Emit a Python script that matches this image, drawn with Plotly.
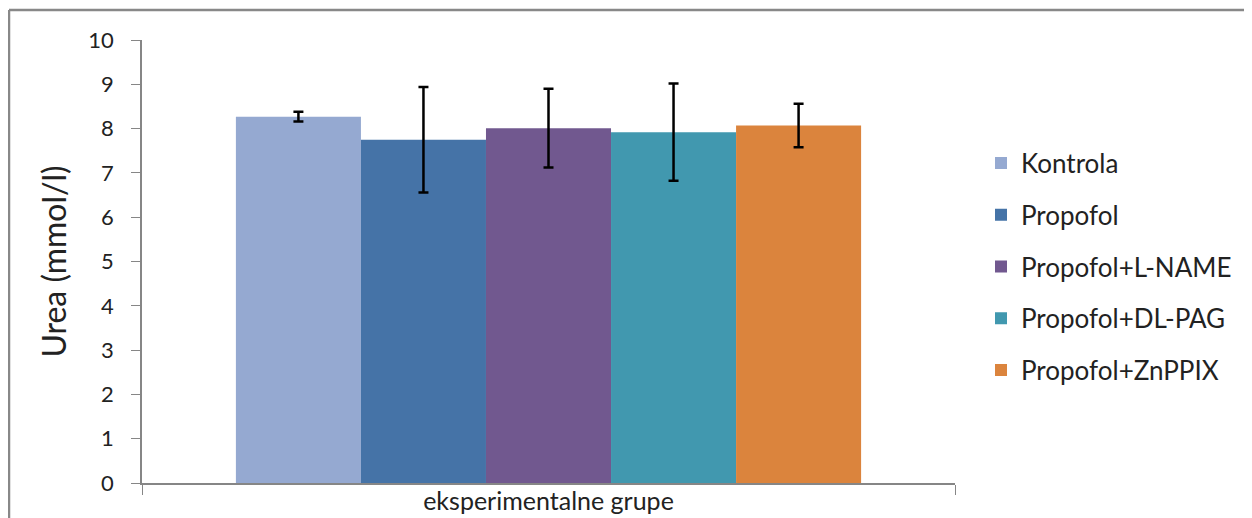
import plotly.graph_objects as go

category = ["eksperimentalne grupe"]
groups = ["Kontrola", "Propofol", "Propofol+L-NAME", "Propofol+DL-PAG", "Propofol+ZnPPIX"]
means = [8.27, 7.75, 8.01, 7.92, 8.07]
errors = [0.11, 1.19, 0.89, 1.10, 0.49]
colors = ["#95A9D1", "#4573A7", "#71588F", "#4198AF", "#DB843D"]

FONT = "Lato"
TXT = "#222222"

fig = go.Figure()
for g, m, e, c in zip(groups, means, errors, colors):
    fig.add_trace(go.Bar(
        x=category, y=[m], name=g, legendgroup=g,
        marker=dict(color=c, line=dict(width=0)),
        error_y=dict(type="data", array=[e], visible=True, color="black", thickness=2.5, width=5),
    ))

# page body has an 8px margin; work in screen pixels and convert
OFF = 8
W, H = 1252, 518
L, T = 142 - OFF, 40 - OFF
pw, ph = 813, 443
R = W - L - pw
B = H - T - ph

def px(x):
    return (x - OFF - L) / pw

def py(y):
    return (T + ph - (y - OFF)) / ph

axis_color = "#868686"
fig.update_layout(
    width=W, height=H,
    margin=dict(l=L, r=R, t=T, b=B, autoexpand=False),
    paper_bgcolor="white", plot_bgcolor="white",
    barmode="group", bargap=0.231, bargroupgap=0,
    font=dict(family=FONT, color=TXT),
    showlegend=True,
    legend=dict(x=px(981), xanchor="left", y=py(267), yanchor="middle",
                font=dict(size=26, family=FONT, color=TXT),
                tracegroupgap=15, bgcolor="rgba(0,0,0,0)"),
    xaxis=dict(showline=True, linecolor=axis_color, linewidth=1.5,
               ticks="outside", tickson="boundaries", ticklen=10, tickcolor=axis_color,
               ticklabelstandoff=-5,
               tickfont=dict(size=25, family=FONT, color=TXT),
               showgrid=False),
    yaxis=dict(range=[0, 10], dtick=1, showline=True, linecolor=axis_color, linewidth=1.5,
               ticks="outside", ticklen=9, tickcolor=axis_color,
               ticklabelstandoff=13,
               tickfont=dict(size=22, family=FONT, color=TXT),
               showgrid=False, zeroline=False,
               title=dict(text="Urea (mmol/l)", font=dict(size=32, family=FONT, color=TXT),
                          standoff=12)),
    shapes=[
        dict(type="line", xref="paper", yref="paper", x0=px(9), x1=px(W + 20), y0=py(10), y1=py(10),
             line=dict(color="#888888", width=2.5)),
        dict(type="line", xref="paper", yref="paper", x0=px(9), x1=px(9), y0=py(10), y1=py(H + 20),
             line=dict(color="#888888", width=2.5)),
    ],
)

fig.write_html("out.html")
